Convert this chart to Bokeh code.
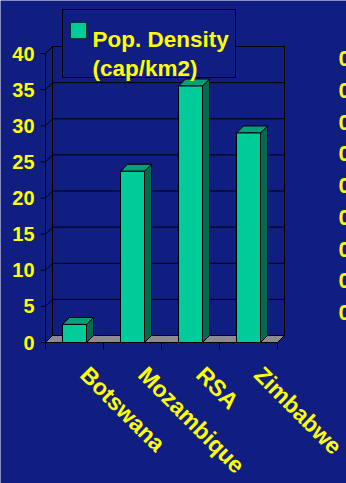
import math
from bokeh.plotting import figure
from bokeh.models import Range1d
from bokeh.core.properties import value
from bokeh.embed import file_html
from bokeh.resources import INLINE

# ---- data ----
categories = ["Botswana", "Mozambique", "RSA", "Zimbabwe"]
density = [2.5, 23.7, 35.5, 29.0]
y_ticks = [0, 5, 10, 15, 20, 25, 30, 35, 40]
y_tick_labels = ["0", "5", "10", "15", "20", "25", "30", "35", "40"]
legend_lines = ["Pop. Density", "(cap/km2)"]
right_ticks = [0, 1, 2, 3, 4, 5, 6, 7, 8]
right_labels = ["0", "0", "0", "0", "0", "0", "0", "0", "0"]

# ---- layout constants (pixels) ----
W, H = 346, 483
AX_L = 45          # pixel x of the front value axis
PX_CAT = 58        # pixel width of a category slot
Y0 = 342           # pixel y of value 0
PX_UNIT = 289 / 40 # pixels per value unit
DEPTH = 7          # 3D depth in pixels
R_Y0, R_STEP = 312, 31.75

def xd(px):
    return (px - AX_L) / PX_CAT

def yd(py):
    return (Y0 - py) / PX_UNIT

DX = DEPTH / PX_CAT
DY = DEPTH / PX_UNIT

BG = "#0F1E80"
YEL = "#FFFF00"
FRONT = "#00CC99"
TOP = "#00A07A"
SIDE = "#006B50"
FLOOR = "#8C8C8C"
FONT = value("Liberation Sans")

p = figure(width=W, height=H,
           x_range=Range1d(xd(0), xd(W)),
           y_range=Range1d(yd(H), yd(0)),
           output_backend="svg", toolbar_location=None,
           x_axis_location=None, y_axis_location=None,
           min_border=0)
p.extra_y_ranges = {"right": Range1d((R_Y0 - H) / R_STEP, R_Y0 / R_STEP)}
p.background_fill_color = BG
p.border_fill_color = BG
p.outline_line_color = None
p.xgrid.visible = False
p.ygrid.visible = False

n = len(categories)
top_v = max(y_ticks)
nt = len(y_ticks)

# back wall gridlines
p.segment(x0=[DX] * nt, y0=[t + DY for t in y_ticks],
          x1=[n + DX] * nt, y1=[t + DY for t in y_ticks],
          line_color="black", line_width=1)
# side wall diagonals
p.segment(x0=[0] * nt, y0=y_ticks, x1=[DX] * nt, y1=[t + DY for t in y_ticks],
          line_color="black", line_width=1)
# wall verticals
p.segment(x0=[DX, n + DX], y0=[DY, DY], x1=[DX, n + DX], y1=[top_v + DY, top_v + DY],
          line_color="black", line_width=1)
# floor
p.patch(x=[0, n, n + DX, DX], y=[0, 0, DY, DY], fill_color=FLOOR,
        line_color="black", line_width=1)
# category ticks
cat_edges = list(range(n + 1))
p.segment(x0=cat_edges, y0=[0] * (n + 1), x1=cat_edges, y1=[yd(Y0 + 7)] * (n + 1),
          line_color="black", line_width=1)

# value axis: line, ticks, labels
p.segment(x0=[0], y0=[0], x1=[0], y1=[top_v], line_color="black", line_width=1)
p.segment(x0=[xd(AX_L - 5)] * nt, y0=y_ticks, x1=[0] * nt, y1=y_ticks,
          line_color="black", line_width=1)
p.text(x=[xd(34)] * nt, y=y_ticks, text=y_tick_labels,
       text_align="right", text_baseline="middle",
       text_color=YEL, text_font=FONT, text_font_style="bold", text_font_size="20px")

# bars
hw = 12 / PX_CAT
fx, fy, tx, ty, sx, sy = [], [], [], [], [], []
for i, v in enumerate(density):
    l, r = i + 0.5 - hw, i + 0.5 + hw
    fx.append([l, r, r, l]); fy.append([0, 0, v, v])
    tx.append([l, r, r + DX, l + DX]); ty.append([v, v, v + DY, v + DY])
    sx.append([r, r + DX, r + DX, r]); sy.append([0, DY, v + DY, v])
p.patches(xs=sx, ys=sy, fill_color=SIDE, line_color="black", line_width=1)
p.patches(xs=tx, ys=ty, fill_color=TOP, line_color="black", line_width=1)
p.patches(xs=fx, ys=fy, fill_color=FRONT, line_color="black", line_width=1)

# category labels (rotated)
p.text(x=[i + 0.5 + 19 / PX_CAT for i in range(n)], y=[yd(361)] * n, text=categories,
       angle=-math.pi / 4, text_align="left", text_baseline="top",
       text_color=YEL, text_font=FONT, text_font_style="bold", text_font_size="23px")

# right-hand labels (cut off by the edge, as in the reference)
p.text(x=[xd(338)] * len(right_ticks), y=right_ticks, text=right_labels,
       y_range_name="right", text_align="left", text_baseline="middle",
       text_color=YEL, text_font=FONT, text_font_style="bold", text_font_size="22px")

# legend
p.quad(left=[xd(62)], right=[xd(235)], top=[yd(9)], bottom=[yd(77)],
       fill_color=BG, line_color="black", line_width=1)
p.quad(left=[xd(70)], right=[xd(86)], top=[yd(22)], bottom=[yd(38)],
       fill_color=FRONT, line_color="#003322", line_width=1)
p.text(x=[xd(92), xd(92)], y=[yd(39), yd(68)], text=legend_lines,
       text_align="left", text_baseline="alphabetic",
       text_color=YEL, text_font=FONT, text_font_style="bold", text_font_size="22.5px")

open("out.html", "w").write(file_html(p, INLINE))
